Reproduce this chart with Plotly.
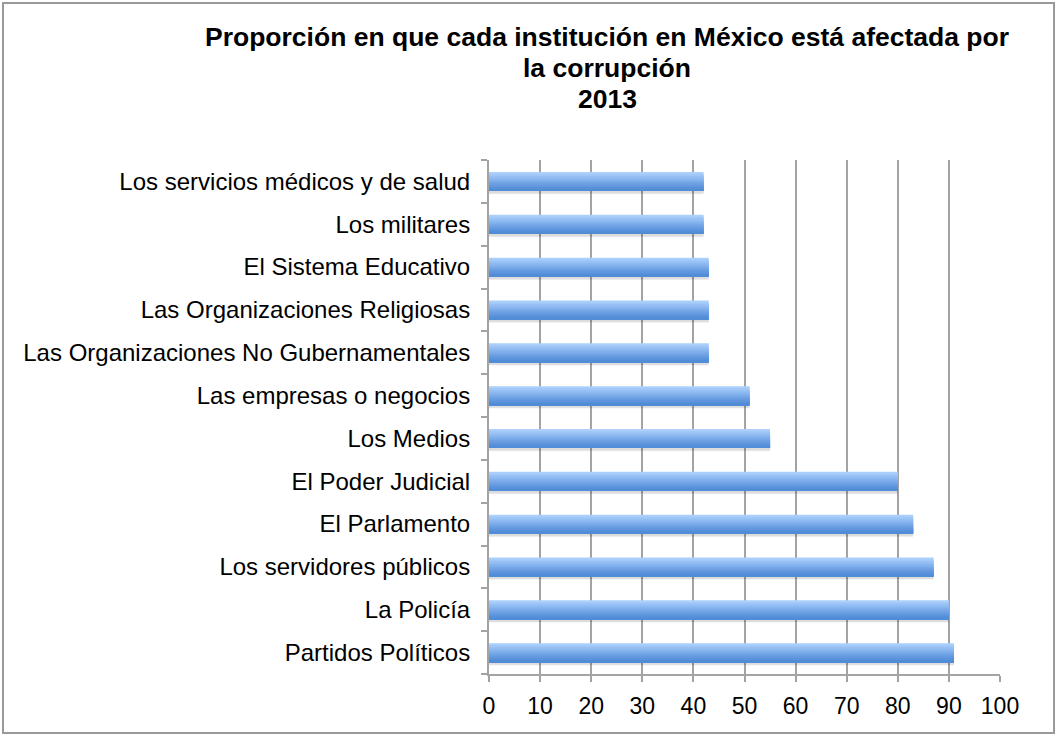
import plotly.graph_objects as go

categories = [
    "Partidos Políticos",
    "La Policía",
    "Los servidores públicos",
    "El Parlamento",
    "El Poder Judicial",
    "Los Medios",
    "Las empresas o negocios",
    "Las Organizaciones No Gubernamentales",
    "Las Organizaciones Religiosas",
    "El Sistema Educativo",
    "Los militares",
    "Los servicios médicos y de salud",
]
values = [91, 90, 87, 83, 80, 55, 51, 43, 43, 43, 42, 42]
x_ticks = list(range(0, 101, 10))
title_lines = ["Proporción en que cada institución en México está afectada por",
               "la corrupción", "2013"]

W, H = 1057, 736
L, R, T, B = 489, 57, 160, 62
FONT = "Liberation Sans, Arial, Helvetica, sans-serif"

fig = go.Figure()

# soft shadow
for off, w, a in [(-0.30, 0.46, 0.06), (-0.285, 0.44, 0.08)]:
    fig.add_trace(go.Bar(
        x=values, y=categories, orientation="h",
        width=w, offset=off,
        marker=dict(color="rgba(0,0,0,%s)" % a, line=dict(width=0)),
        hoverinfo="skip", showlegend=False,
    ))

# gradient: full bar light, then darker layers anchored at the bottom
bar_top = 0.22
bar_h = 0.44
bar_bottom = bar_top - bar_h
grad_colors = ["#abd0fc", "#a1c8f8", "#96c0f4", "#8bb8f0", "#80afeb", "#75a6e6",
               "#6b9ee2", "#6197de", "#5891da", "#518cd6"]
n = len(grad_colors)
for i, c in enumerate(grad_colors):
    h = bar_h * (n - i) / n
    fig.add_trace(go.Bar(
        x=values, y=categories, orientation="h",
        width=h, offset=bar_bottom,
        marker=dict(color=c, line=dict(width=0)),
        hoverinfo="x+y" if i == 0 else "skip", showlegend=False,
    ))

fig.update_layout(
    width=W, height=H,
    barmode="overlay",
    paper_bgcolor="white", plot_bgcolor="white",
    margin=dict(l=L, r=R, t=T, b=B, pad=0),
    font=dict(family=FONT, size=24, color="black"),
    showlegend=False,
)
fig.update_xaxes(
    range=[0, 100], tickvals=x_ticks, ticktext=[str(v) for v in x_ticks],
    showgrid=True, gridcolor="#a3a3a3", gridwidth=2,
    showline=True, linecolor="#a3a3a3", linewidth=2,
    ticks="outside", ticklen=6, tickwidth=2, tickcolor="#a3a3a3",
    ticklabelstandoff=4, zeroline=False,
    tickfont=dict(size=23),
)
fig.update_yaxes(
    categoryorder="array", categoryarray=categories,
    showgrid=False, showline=True, linecolor="#a3a3a3", linewidth=2,
    ticks="outside", ticklen=6, tickwidth=2, tickcolor="#a3a3a3",
    tickson="boundaries", ticklabelstandoff=12,
    tickfont=dict(size=24),
)

# titles
title_y = [37, 68, 99]
for txt, yy in zip(title_lines, title_y):
    fig.add_annotation(
        text="<b>%s</b>" % txt, xref="paper", yref="paper",
        x=(607 - L) / (W - L - R), y=1 + (T - yy) / (H - T - B),
        xanchor="center", yanchor="middle", showarrow=False,
        font=dict(size=26.5, family=FONT),
    )

# outer border
pw, ph = W - L - R, H - T - B
fig.add_shape(
    type="rect", xref="paper", yref="paper",
    x0=(3 - L) / pw, x1=(W - 3 - L) / pw,
    y0=-(B - 3) / ph, y1=1 + (T - 3) / ph,
    line=dict(color="#999999", width=2), fillcolor="rgba(0,0,0,0)",
    layer="below",
)

fig.write_html("out.html", config={"displayModeBar": False},
               post_script="document.body.style.margin='0';")
